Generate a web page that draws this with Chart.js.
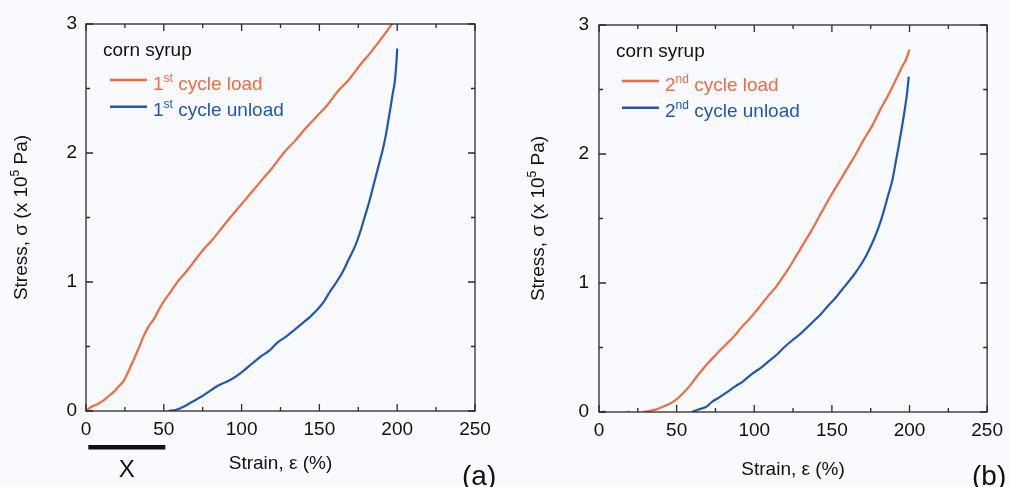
<!DOCTYPE html>
<html>
<head>
<meta charset="utf-8">
<script src="https://cdn.jsdelivr.net/npm/chart.js@4.4.1/dist/chart.umd.min.js"></script>
<style>
  html, body { margin: 0; padding: 0; background: #f9fafd; }
  #wrap { position: relative; width: 1010px; height: 487px; overflow: hidden; }
  canvas { position: absolute; top: 0; }
</style>
</head>
<body>
<div id="wrap">
  <canvas id="chartA" width="505" height="487" style="left:0"></canvas>
  <canvas id="chartB" width="505" height="487" style="left:505px"></canvas>
</div>
<script>
const FONT = '"Liberation Sans", Arial, Helvetica, sans-serif';
const LOAD_COLOR = '#f26a40';
const UNLOAD_COLOR = '#1f57b8';

// axis ticks
const strainMajor = [0, 50, 100, 150, 200, 250];
const strainMinor = [25, 75, 125, 175, 225];
const stressMajor = [0, 1, 2, 3];
const stressMinor = [0.5, 1.5, 2.5];

// (a) first cycle
const load1Strain = [0, 3, 7, 11, 15, 18, 21, 24, 27, 30, 34, 37, 40, 44, 47, 50, 53, 57, 60, 63, 67, 72, 76, 80, 86, 92, 99, 106, 113, 120, 127, 134, 141, 148, 155, 162, 169, 176, 183, 190, 196, 200];
const load1Stress = [0, 0.03, 0.05, 0.08, 0.12, 0.15, 0.19, 0.23, 0.3, 0.38, 0.49, 0.58, 0.65, 0.72, 0.79, 0.85, 0.9, 0.97, 1.02, 1.06, 1.12, 1.2, 1.26, 1.31, 1.4, 1.49, 1.59, 1.69, 1.79, 1.89, 2.0, 2.09, 2.19, 2.28, 2.37, 2.48, 2.57, 2.68, 2.78, 2.89, 2.99, 3.06];
const unload1Strain = [53, 58, 63, 68, 74, 79, 84, 89, 94, 101, 107, 112, 118, 123, 129, 134, 139, 144, 149, 153, 157, 161, 165, 169, 173, 176, 179, 182, 185, 188, 191, 193, 195, 197, 198.5, 199.5, 200];
const unload1Stress = [0, 0.01, 0.035, 0.07, 0.11, 0.15, 0.19, 0.22, 0.25, 0.31, 0.37, 0.42, 0.47, 0.53, 0.58, 0.63, 0.68, 0.73, 0.79, 0.85, 0.93, 1.0, 1.08, 1.18, 1.28, 1.38, 1.5, 1.62, 1.76, 1.9, 2.04, 2.16, 2.3, 2.45, 2.56, 2.7, 2.81];

// (b) second cycle (leading isolated points are stray readings)
const load2Strain = [19, 19.5, 28, 33, 37, 41, 45, 49, 52, 56, 59, 62, 66, 71, 75, 79, 84, 88, 92, 96, 101, 105, 109, 114, 118, 122, 127, 131, 137, 143, 149, 154, 160, 165, 170, 176, 181, 186, 191, 195, 198, 200];
const load2Stress = [0, null, 0, 0.01, 0.02, 0.04, 0.06, 0.09, 0.12, 0.17, 0.21, 0.26, 0.32, 0.39, 0.44, 0.49, 0.55, 0.6, 0.66, 0.71, 0.78, 0.84, 0.9, 0.97, 1.04, 1.11, 1.21, 1.29, 1.41, 1.54, 1.67, 1.77, 1.89, 1.99, 2.1, 2.22, 2.34, 2.45, 2.57, 2.67, 2.74, 2.81];
const unload2Strain = [3, 3.5, 60, 64, 69, 73, 77, 82, 88, 93, 99, 104, 109, 115, 120, 126, 131, 137, 143, 148, 152, 156, 160, 164, 168, 172, 176, 180, 183, 186, 189, 191, 193, 195, 197, 198.5, 199.5];
const unload2Stress = [0, null, 0, 0.02, 0.04, 0.08, 0.11, 0.15, 0.2, 0.24, 0.3, 0.34, 0.39, 0.45, 0.51, 0.57, 0.62, 0.69, 0.76, 0.83, 0.88, 0.94, 1.0, 1.06, 1.13, 1.21, 1.31, 1.43, 1.54, 1.67, 1.8, 1.93, 2.06, 2.2, 2.35, 2.48, 2.6];

function toPoints(xs, ys) {
    return xs.map((x, i) => ({ x: x, y: ys[i] }));
}

// a point with gaps on both sides gets a small dot, everything else is line only
function speckRadius(c) {
    const d = c.dataset.data;
    const gap = p => !p || p.y === null;
    return gap(d[c.dataIndex - 1]) && gap(d[c.dataIndex + 1]) ? 1.6 : 0;
}

function series(label, ord, sup, rest, xs, ys, color) {
    return {
        label: label, ord: ord, sup: sup, rest: rest,
        data: toPoints(xs, ys),
        showLine: true,
        borderColor: color,
        backgroundColor: color,
        borderWidth: 2.2,
        pointRadius: speckRadius,
        pointBorderWidth: 0,
        cubicInterpolationMode: 'monotone'
    };
}

// draws a run of [text, size, rise] pieces starting at x; returns end x
function drawPieces(ctx, pieces, x, base) {
    pieces.forEach(([t, size, rise]) => {
        ctx.font = size + 'px ' + FONT;
        ctx.fillText(t, x, base - rise);
        x += ctx.measureText(t).width;
    });
    return x;
}

function piecesWidth(ctx, pieces) {
    return pieces.reduce((w, [t, size]) => {
        ctx.font = size + 'px ' + FONT;
        return w + ctx.measureText(t).width;
    }, 0);
}

const panelPlugin = {
    id: 'panel',
    afterDraw(chart, args, o) {
        const ctx = chart.ctx;
        const a = chart.chartArea;
        const xs = chart.scales.x, ys = chart.scales.y;
        ctx.save();

        // frame with inward ticks on all four sides
        ctx.strokeStyle = '#2a2a2a';
        ctx.lineWidth = 1.3;
        ctx.strokeRect(a.left, a.top, a.right - a.left, a.bottom - a.top);
        ctx.beginPath();
        const xTick = (v, len) => {
            const px = xs.getPixelForValue(v);
            ctx.moveTo(px, a.bottom); ctx.lineTo(px, a.bottom - len);
            ctx.moveTo(px, a.top); ctx.lineTo(px, a.top + len);
        };
        const yTick = (v, len) => {
            const py = ys.getPixelForValue(v);
            ctx.moveTo(a.left, py); ctx.lineTo(a.left + len, py);
            ctx.moveTo(a.right, py); ctx.lineTo(a.right - len, py);
        };
        strainMajor.forEach(v => xTick(v, 7));
        strainMinor.forEach(v => xTick(v, 4));
        stressMajor.forEach(v => yTick(v, 7));
        stressMinor.forEach(v => yTick(v, 4));
        ctx.stroke();

        ctx.textBaseline = 'alphabetic';
        ctx.textAlign = 'left';
        ctx.fillStyle = '#111';

        // rotated stress title with a real superscript exponent
        const yTitle = [['Stress, σ (x 10', 19, 0], ['5', 12, 8], [' Pa)', 19, 0]];
        ctx.save();
        ctx.translate(o.yTitleX, (a.top + a.bottom) / 2);
        ctx.rotate(-Math.PI / 2);
        drawPieces(ctx, yTitle, -piecesWidth(ctx, yTitle) / 2, 0);
        ctx.restore();

        // legend with superscript ordinals
        ctx.font = '19px ' + FONT;
        ctx.fillText(o.header, o.headerX, o.headerY);
        chart.data.datasets.forEach((ds, i) => {
            const base = o.headerY + 33.5 + i * 26.7;
            ctx.strokeStyle = ds.borderColor;
            ctx.lineWidth = 2.4;
            ctx.beginPath();
            ctx.moveTo(o.lineX, base - 9.5);
            ctx.lineTo(o.lineX + 37, base - 9.5);
            ctx.stroke();
            ctx.fillStyle = ds.borderColor;
            drawPieces(ctx, [[ds.ord, 19, 0], [ds.sup, 12, 8], [ds.rest, 19, 0]], o.lineX + 43, base);
        });

        // panel letter
        ctx.fillStyle = '#111';
        ctx.font = '28px ' + FONT;
        ctx.fillText(o.letter, o.letterX, 485);

        // length bar under the strain axis
        if (o.bar) {
            const x0 = xs.getPixelForValue(1.5), x1 = xs.getPixelForValue(51);
            ctx.fillRect(x0, 445, x1 - x0, 4.5);
            ctx.font = '24px ' + FONT;
            ctx.textAlign = 'center';
            ctx.fillText('X', (x0 + x1) / 2, 477);
        }
        ctx.restore();
    }
};

function makeChart(id, datasets, lay) {
    const tickFont = { family: FONT, size: 19 };
    const titleFont = { family: FONT, size: 19 };
    return new Chart(document.getElementById(id), {
        type: 'scatter',
        data: { datasets: datasets },
        options: {
            responsive: false,
            animation: false,
            layout: { padding: { left: 0, top: lay.top, right: lay.right, bottom: 0 } },
            plugins: {
                legend: { display: false },
                tooltip: { enabled: false },
                panel: lay.panel
            },
            scales: {
                x: {
                    type: 'linear', min: 0, max: 250,
                    grid: { display: false, drawTicks: false },
                    border: { display: false },
                    afterBuildTicks: s => { s.ticks = strainMajor.map(v => ({ value: v })); },
                    ticks: { font: tickFont, color: '#111', padding: 7, maxRotation: 0 },
                    title: { display: true, text: 'Strain, ε (%)', font: titleFont, color: '#111',
                             padding: { top: 0, bottom: lay.xTitlePad } },
                    afterFit: s => { s.height = lay.xHeight; }
                },
                y: {
                    type: 'linear', min: 0, max: 3,
                    grid: { display: false, drawTicks: false },
                    border: { display: false },
                    afterBuildTicks: s => { s.ticks = stressMajor.map(v => ({ value: v })); },
                    ticks: { font: tickFont, color: '#111', padding: lay.yTickPad },
                    afterFit: s => { s.width = lay.yWidth; }
                }
            }
        },
        plugins: [panelPlugin]
    });
}

makeChart('chartA', [
    series('1st cycle load', '1', 'st', ' cycle load', load1Strain, load1Stress, LOAD_COLOR),
    series('1st cycle unload', '1', 'st', ' cycle unload', unload1Strain, unload1Stress, UNLOAD_COLOR)
], {
    top: 24, right: 30, xHeight: 76, yWidth: 86, yTickPad: 9, xTitlePad: 12,
    panel: { header: 'corn syrup', headerX: 103, headerY: 56, lineX: 110, yTitleX: 27,
             letter: '(a)', letterX: 462, bar: true }
});

makeChart('chartB', [
    series('2nd cycle load', '2', 'nd', ' cycle load', load2Strain, load2Stress, LOAD_COLOR),
    series('2nd cycle unload', '2', 'nd', ' cycle unload', unload2Strain, unload2Stress, UNLOAD_COLOR)
], {
    top: 25, right: 22, xHeight: 75, yWidth: 94, yTickPad: 10, xTitlePad: 6,
    panel: { header: 'corn syrup', headerX: 111, headerY: 57, lineX: 117, yTitleX: 39,
             letter: '(b)', letterX: 467, bar: false }
});
</script>
</body>
</html>
